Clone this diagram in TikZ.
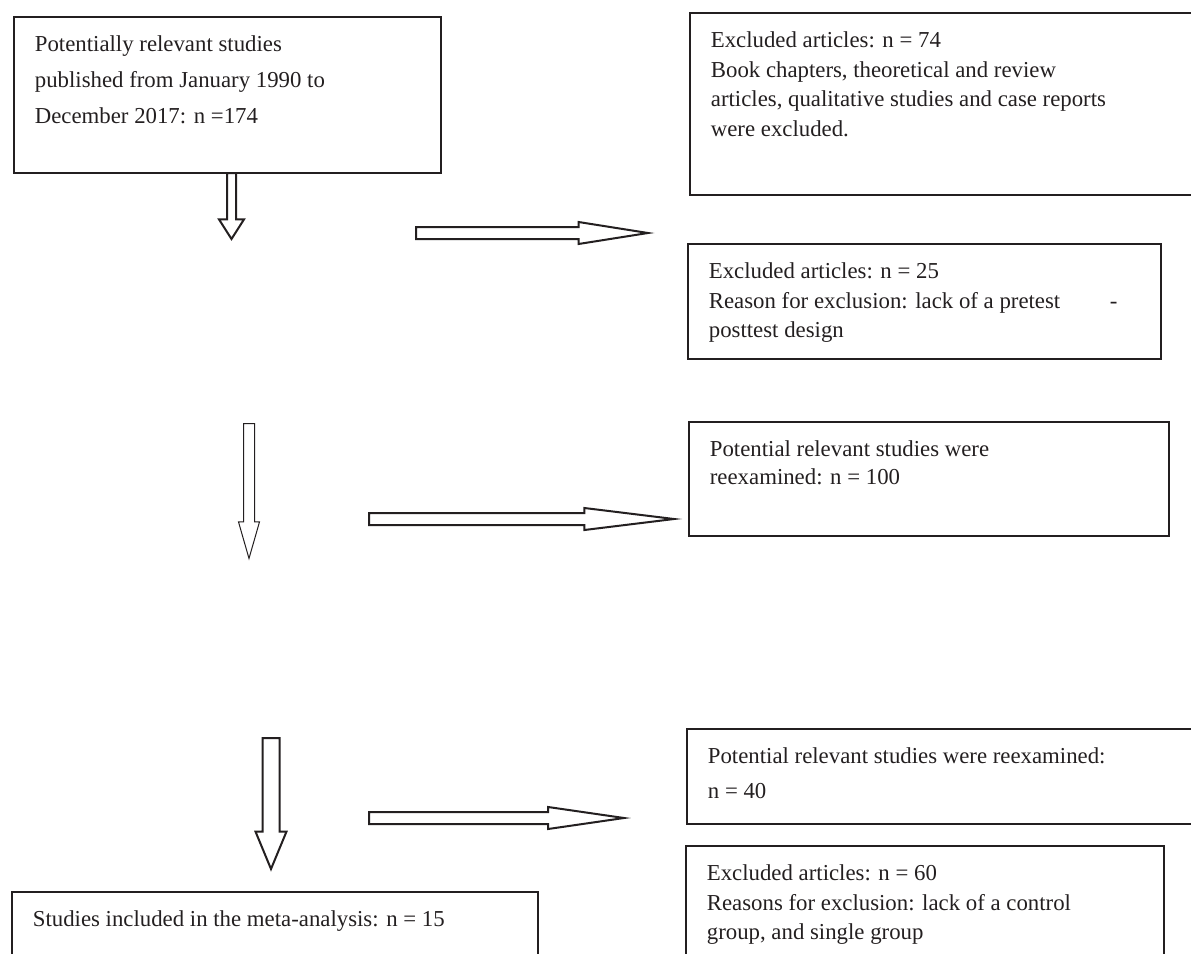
\documentclass[tikz,border=0pt]{standalone}
\usepackage{amsmath}
\usepackage{fontspec}
\setmainfont{Liberation Serif}
\usepackage{tikz}
\usetikzlibrary{shapes.arrows}

\definecolor{ink}{RGB}{35,31,32}
\newcommand{\flowtext}[3]{\parbox[b][\dimexpr#1-19pt\relax][t]{\dimexpr#2-21pt\relax}{\raggedright\fontsize{11.4}{14.75}\selectfont#3}}

\begin{document}
\begin{tikzpicture}[x=0.5pt,y=-0.5pt]

    \tikzstyle{box}=[draw=ink,text=ink,line width=0.9pt,anchor=north west,inner xsep=10.5pt,inner ysep=9.5pt]
    \tikzstyle{hollow}=[single arrow,draw=ink,fill=white,line width=1pt,anchor=tail,inner xsep=0pt,minimum width=0pt,single arrow head indent=0pt]

    \useasboundingbox (0,0) rectangle (1191,954);
    \clip (0,0) rectangle (1191,954);

    \node[box] (0) at (13,16)   {\flowtext{78pt}{213.5pt}{Potentially relevant studies\\[3.25pt]published from January 1990 to\\[3.25pt]December 2017: n =174}};
    \node[box] (1) at (689,12)  {\flowtext{91pt}{256pt}{Excluded articles: n = 74\\Book chapters, theoretical and review\\articles, qualitative studies and case reports\\were excluded.}};
    \node[box] (2) at (687,243) {\flowtext{57.5pt}{236.5pt}{Excluded articles: n = 25\\\makebox[200.5pt][l]{Reason for exclusion: lack of a pretest}-\\posttest design}};
    \node[box] (3) at (688,421) {\flowtext{57pt}{240pt}{Potential relevant studies were\\[-0.75pt]reexamined: n = 100}};
    \node[box] (4) at (686,728) {\flowtext{47.5pt}{257pt}{Potential relevant studies were reexamined:\\[2.75pt]n = 40}};
    \node[box] (5) at (685,845) {\flowtext{62.5pt}{239pt}{Excluded articles: n = 60\\Reasons for exclusion: lack of a control\\group, and single group}};
    \node[box] (6) at (11,891)  {\flowtext{40pt}{263pt}{Studies included in the meta-analysis: n = 15}};

    % block arrows
    \node[hollow,rotate=-90,minimum height=33pt,inner ysep=1.75pt,single arrow head extend=4pt,single arrow tip angle=65] (d1) at (231.5,172) {};
    \node[hollow,minimum height=116pt,inner ysep=2.5pt,single arrow head extend=2.5pt,single arrow tip angle=18] (r1) at (415,233) {};
    \node[hollow,rotate=-90,line width=0.5pt,minimum height=67.5pt,inner ysep=2.5pt,single arrow head extend=2.5pt,single arrow tip angle=32] (d2) at (249,423) {};
    \node[hollow,minimum height=152.5pt,inner ysep=2.5pt,single arrow head extend=2.5pt,single arrow tip angle=14] (r2) at (368,519) {};
    \node[hollow,rotate=-90,minimum height=65.5pt,inner ysep=3.75pt,single arrow head extend=3.5pt,single arrow tip angle=45] (d3) at (271,737) {};
    \node[hollow,minimum height=127.5pt,inner ysep=2.5pt,single arrow head extend=2.5pt,single arrow tip angle=16.5] (r3) at (368,818) {};

\end{tikzpicture}
\end{document}
